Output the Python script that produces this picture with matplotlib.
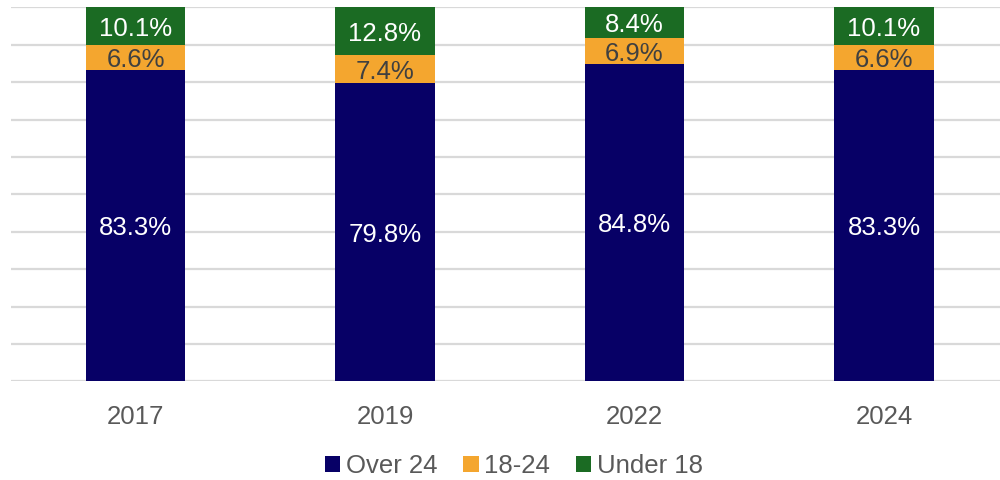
import matplotlib
matplotlib.use("Agg")
import matplotlib.pyplot as plt
import numpy as np

years = ["2017", "2019", "2022", "2024"]
over24 = [83.3, 79.8, 84.8, 83.3]
age18_24 = [6.6, 7.4, 6.9, 6.6]
under18 = [10.1, 12.8, 8.4, 10.1]

series = [
    ("Over 24", over24, "#070066", "white"),
    ("18-24", age18_24, "#F4A62F", "#404040"),
    ("Under 18", under18, "#1B6B23", "white"),
]

plt.rcParams['font.family'] = ['Liberation Sans', 'DejaVu Sans']

fig = plt.figure(figsize=(10, 4.8), dpi=100)
W, H = 1000, 480
left, right = 10.75, 1008.75
top, bottom = 7.3, 381.3
ax = fig.add_axes([left / W, 1 - bottom / H, (right - left) / W, (bottom - top) / H])

x = np.arange(len(years))
base = np.zeros(len(years))
handles = []
for name, vals, color, tcolor in series:
    vals = np.array(vals)
    bars = ax.bar(x, vals, bottom=base, width=0.4, color=color, label=name, zorder=3)
    for xi, b, v in zip(x, base, vals):
        ax.text(xi, b + v / 2, f"{v:.1f}%", ha="center", va="center_baseline",
                color=tcolor, fontsize=18.5, zorder=4)
    handles.append(bars)
    base = base + vals

ax.set_xlim(-0.5, len(years) - 0.5)
ax.set_ylim(0, 100)
ax.set_yticks(np.arange(0, 101, 10))
ax.yaxis.grid(True, color="#D9D9D9", linewidth=1.6, zorder=0)
ax.set_yticklabels([])
ax.tick_params(axis="y", length=0)
ax.tick_params(axis="x", length=0, labelsize=18.5, labelcolor="#595959", pad=17)
ax.set_xticks(x)
ax.set_xticklabels(years)
for s in ax.spines.values():
    s.set_visible(False)

leg = fig.legend(handles=handles, loc="center", bbox_to_anchor=(514 / W, 1 - 466 / H),
                 ncol=3, frameon=False, fontsize=18.5, handlelength=0.6, handleheight=0.6,
                 handletextpad=0.22, columnspacing=1.0)
for t in leg.get_texts():
    t.set_color("#595959")

fig.savefig("out.png", dpi=100)
